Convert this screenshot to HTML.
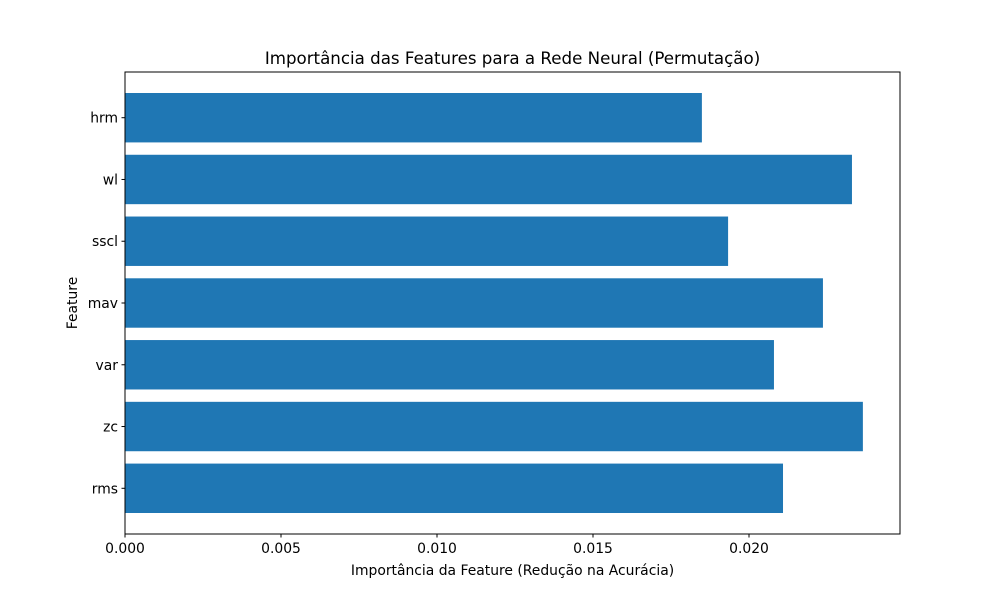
<!DOCTYPE html>
<html><head><meta charset="utf-8"><style>
body{margin:0;background:#fff}
svg text{font-family:"DejaVu Sans","Liberation Sans",sans-serif;fill:#000}
</style></head><body>
<svg id="chart" width="1000" height="600" viewBox="0 0 1000 600">
<rect width="1000" height="600" fill="#fff"/>
<text x="512.5" y="64" font-size="16.67" text-anchor="middle">Importância das Features para a Rede Neural (Permutação)</text>
<g id="bars"></g>
<g id="xticks"></g>
<g id="yticks"></g>
<rect x="125" y="72" width="775" height="462" fill="none" stroke="#000" stroke-width="1"/>
<text x="512.5" y="575" font-size="13.9" text-anchor="middle">Importância da Feature (Redução na Acurácia)</text>
<text transform="translate(77,303) rotate(-90)" font-size="13.9" text-anchor="middle">Feature</text>
</svg>
<script>
const categories = ["rms","zc","var","mav","sscl","wl","hrm"];
const values = [0.02109,0.02365,0.02080,0.02237,0.01933,0.02330,0.01849];
const xTicks = [0,0.005,0.010,0.015,0.020];
const xTickLabels = ["0.000","0.005","0.010","0.015","0.020"];
const NS="http://www.w3.org/2000/svg";
const L=125,R=900,T=72,B=534;
const xmax=(R-L)/31200;
const x=v=>L+v/xmax*(R-L);
const ymin=-0.74,ymax=categories.length-1+0.74;
const y=i=>B-(i-ymin)/(ymax-ymin)*(B-T);
const ppu=(B-T)/(ymax-ymin);
function mk(t,a,p){const e=document.createElementNS(NS,t);for(const k in a)e.setAttribute(k,a[k]);p.appendChild(e);return e;}
const gb=document.getElementById('bars'),gx=document.getElementById('xticks'),gy=document.getElementById('yticks');
categories.forEach((c,i)=>{
 const r=mk('rect',{x:x(0),y:y(i)-0.4*ppu,width:x(values[i])-x(0),height:0.8*ppu,fill:'#1f77b4'},gb);
 
 
 const tk=mk('line',{x1:L-3.5,x2:L,y1:y(i),y2:y(i),stroke:'#000'},gy);
 
 
 const t=mk('text',{x:L-7,y:y(i)+5,'font-size':13.9,'text-anchor':'end'},gy);
 t.textContent=c;
 
 
});
xTicks.forEach((v,i)=>{
 const tk=mk('line',{x1:x(v),x2:x(v),y1:B,y2:B+3.5,stroke:'#000'},gx);
 
 
 const t=mk('text',{x:x(v),y:B+19,'font-size':13.9,'text-anchor':'middle'},gx);
 t.textContent=xTickLabels[i];
 
 
});
</script>
</body></html>
